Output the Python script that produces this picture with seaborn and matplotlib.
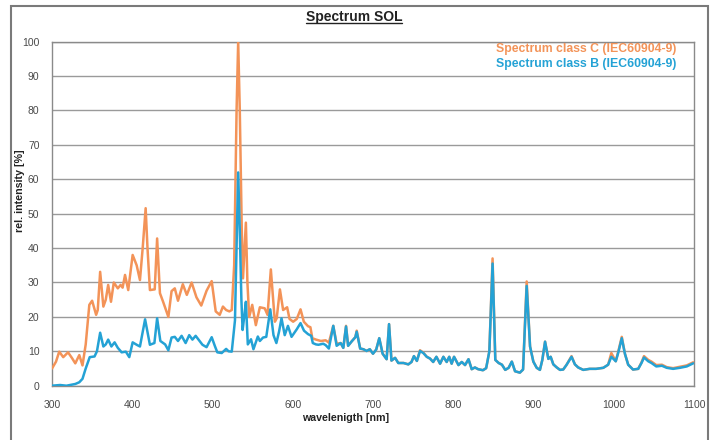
import numpy as np
import pandas as pd
import matplotlib
matplotlib.use("Agg")
import matplotlib.pyplot as plt
from matplotlib.lines import Line2D
from matplotlib.patches import Rectangle
import seaborn as sns

# ---------------- data ----------------
# Class C (orange) - head part 300..645 nm
wl_c_head = [300, 305, 309, 314, 320, 325, 329, 334, 338, 342, 346.5, 350, 355, 357, 360,
             364, 367, 370, 373.5, 377, 382, 385.5, 388, 391, 395, 400.5, 405.5, 409.6,
             413, 416.7, 419, 422, 428, 431, 434.5, 438.6, 442, 445, 449, 453, 457, 463,
             468, 474, 480, 486, 492.6, 499, 504, 509, 513, 517, 521, 524, 527, 530, 532,
             534, 536.5, 538, 540, 541.6, 543.5, 545.7, 549.5, 554, 559, 565, 568.6,
             572.7, 577.7, 580, 584, 588, 593, 596, 600.5, 605, 609.7, 613.8, 619, 622,
             624.4, 629, 635, 641, 645]
int_c_head = [5, 7, 9.9, 8.3, 9.7, 8, 6.5, 8.9, 5.9, 12, 23.5, 24.7, 20.6, 22, 33.1,
              23, 25, 29.3, 24.4, 30, 28.3, 29.3, 28.5, 32.2, 27.8, 38, 35, 30.7,
              40, 51.6, 40, 27.8, 28, 42.8, 26.9, 24.3, 22, 20, 27.5, 28.3, 24.7, 29.5,
              26.4, 30, 25.7, 23.3, 27.6, 30.4, 21.6, 20.6, 23, 22, 21.6, 22, 35, 80, 100,
              80, 45, 31.2, 40, 47.4, 30, 20, 23.5, 17.6, 22.8, 22.5, 20.6,
              33.8, 18.6, 19.6, 28, 22, 22.8, 19.4, 18.6, 19.4, 22.2, 18.6, 17.3, 17,
              13.8, 13.4, 13, 13.2, 12.5]

# Class B (blue) - head part 300..645 nm
wl_b_head = [300, 310, 318, 325, 329, 334, 338, 342, 347, 353, 356, 360, 364, 367, 370,
             374, 378, 382, 386.8, 392, 396.3, 400.5, 405.5, 409.6, 416, 422, 427.6, 431,
             435, 441, 445, 449, 453, 457, 461.5, 466.5, 471, 475, 479, 483, 487.5, 492.6,
             499, 503, 506, 511.5, 517, 520, 524, 528, 530, 532, 534, 536, 537.5, 539.5,
             541.6, 544, 548, 551, 556.5, 559, 563, 567, 572, 576, 579.6, 583, 586, 590,
             594, 598.5, 605, 609.7, 614, 619, 623, 625, 629, 632, 638, 641, 645]
int_b_head = [0, 0.2, 0, 0.3, 0.5, 1.0, 2.0, 5, 8.3, 8.5, 10, 15.4, 11.4, 12, 13.4,
              11.4, 12.6, 11, 9.7, 9.9, 8.3, 12.6, 11.9, 11.4, 19.3, 11.9, 12.4, 19.6,
              13, 12, 10.3, 14, 14.2, 13, 14.5, 12.4, 14.7, 13.4, 14.5, 13.3, 11.9, 11.2,
              14.1, 11.5, 9.7, 9.5, 10.7, 10, 9.9, 19, 40, 62, 45, 25, 16.2, 20,
              24.4, 12, 13.5, 10.6, 14.3, 13, 14, 14.2, 22.2, 14.7, 12.4, 15.8, 19.6, 14.7,
              17.4, 14.2, 16.4, 18.2, 16, 15, 14.5, 12.4, 12, 11.9, 12.2, 11.8, 10.8]

# Shared tail wavelengths 650..1100 nm (both classes nearly coincide here)
wl_tail = [650.5, 654.7, 659.7, 663, 666.4, 669, 673.5, 678, 679.7, 684, 688, 692, 696,
           700, 704, 707.8, 712, 717, 720, 723, 727.5, 731.5, 738, 744, 748, 751, 754.7,
           758.6, 762.7, 767, 771, 775, 779, 783.6, 787.7, 791.8, 795, 798, 801, 806.5,
           810.6, 814.7, 819, 823, 827, 831, 837, 841, 845, 849, 852.4, 856.6, 860.7,
           864.8, 869, 873, 877, 883, 887, 891.5, 895.7, 899.8, 904, 908, 911, 914.4,
           918.5, 921.4, 924.7, 929, 933, 937, 941, 947.4, 951.6, 955.7, 962, 970, 978,
           987, 993, 997, 1002.5, 1005.5, 1010, 1014, 1018, 1024, 1030.5, 1034.6, 1037.7,
           1043, 1047, 1053, 1060, 1066, 1074, 1082.5, 1091, 1099]
int_b_tail = [17.4, 11.6, 12.4, 11, 17.2, 11.6, 12.9, 14.1, 15.7, 10.8, 10.6, 10.1, 10.6,
              9.3, 10.5, 13.8, 9.3, 7.7, 17.9, 7.3, 8.1, 6.6, 6.6, 6.2, 6.9, 8.6, 7.2,
              10.1, 9.5, 8.4, 7.9, 6.9, 8.4, 6.4, 8.4, 6.9, 8.4, 6.4, 8.4, 6,
              6.9, 6, 7.7, 4.8, 5.3, 4.8, 4.5, 5.1, 10, 35.5, 7.5, 6.6, 6.1,
              4.6, 5.2, 7, 4.2, 3.8, 4.7, 29, 11.4, 7.0, 5.2, 4.6, 7.5, 12.8,
              7.8, 8.4, 6.2, 5.3, 4.6, 4.7, 6.0, 8.4, 6.2, 5.3, 4.6, 4.9, 4.9,
              5.2, 6.1, 8.4, 7.1, 9.5, 13.8, 9.2, 6.1, 4.7, 4.9, 6.6, 8.2,
              7.1, 6.6, 5.6, 5.8, 5.2, 4.9, 5.2, 5.6, 6.5]
int_c_tail = [17.4, 12.2, 12.4, 11, 17.4, 11.6, 12.9, 14.1, 16, 10.8, 10.6, 10.1, 10.6,
              9.3, 10.5, 13.8, 9.3, 7.7, 17.9, 7.3, 8.1, 6.6, 6.6, 6.2, 6.9, 8.6, 7.2,
              10.3, 9.6, 8.4, 7.9, 6.9, 8.4, 6.4, 8.4, 6.9, 8.4, 6.4, 8.4, 6,
              6.9, 6, 7.7, 4.8, 5.3, 4.8, 4.5, 5.1, 10, 37, 7.5, 6.6, 6.1,
              4.6, 5.2, 7, 4.2, 3.8, 4.7, 30.3, 11.4, 7.0, 5.2, 4.6, 7.5, 12.8,
              7.8, 8.4, 6.2, 5.3, 4.6, 4.7, 6.0, 8.6, 6.2, 5.3, 4.6, 4.9, 4.9,
              5.2, 6.1, 9.5, 7.1, 9.8, 14.2, 9.2, 6.1, 4.7, 4.9, 6.8, 8.6,
              7.5, 7.0, 6.0, 6.1, 5.4, 5.1, 5.5, 5.9, 6.8]

x_ticks = [300, 400, 500, 600, 700, 800, 900, 1000, 1100]
y_ticks = [0, 10, 20, 30, 40, 50, 60, 70, 80, 90, 100]

label_c = "Spectrum class C (IEC60904-9)"
label_b = "Spectrum class B (IEC60904-9)"
title_text = "Spectrum SOL"
xlabel_text = "wavelenigth [nm]"
ylabel_text = "rel. intensity [%]"

# ---------------- styling ----------------
sns.set_theme(style="white")
plt.rcParams['font.family'] = ['Liberation Sans', 'DejaVu Sans']

col_c = "#F39358"
col_b = "#24A2D5"
grid_col = "#9a9a9a"
text_col = "#4a4a4a"

W, H = 717, 440
fig = plt.figure(figsize=(W / 100, H / 100), dpi=100)
fig.patch.set_facecolor("white")

left, right, top, bottom = 52, 694, 41.7, 385.7
ax = fig.add_axes([left / W, (H - bottom) / H, (right - left) / W, (bottom - top) / H])

df_c = pd.DataFrame({"wl": wl_c_head + wl_tail, "val": int_c_head + int_c_tail})
df_b = pd.DataFrame({"wl": wl_b_head + wl_tail, "val": int_b_head + int_b_tail})

sns.lineplot(data=df_c, x="wl", y="val", ax=ax, color=col_c, lw=1.8,
             estimator=None, sort=True, zorder=3)
sns.lineplot(data=df_b, x="wl", y="val", ax=ax, color=col_b, lw=1.8,
             estimator=None, sort=True, zorder=4)

ax.set_xlim(300, 1100)
ax.set_ylim(0, 100)
ax.set_xticks(x_ticks)
ax.set_yticks(y_ticks)
ax.set_xlabel("")
ax.set_ylabel("")
ax.yaxis.grid(True, color=grid_col, lw=1.0)
ax.xaxis.grid(False)
ax.set_axisbelow(True)
for s in ax.spines.values():
    s.set_color("#8a8a8a")
    s.set_linewidth(1.0)
ax.tick_params(axis="both", which="major", labelsize=7.5, labelcolor=text_col,
               color="#8a8a8a", direction="out", length=4, width=1.0)
ax.tick_params(axis="y", pad=5)
ax.tick_params(axis="x", pad=6)

# legend as coloured text
fig.text(676 / W, 1 - 49 / H, label_c, color=col_c, fontsize=8.8, fontweight="bold",
         ha="right", va="center")
fig.text(676 / W, 1 - 63.5 / H, label_b, color=col_b, fontsize=8.8, fontweight="bold",
         ha="right", va="center")

# axis labels
fig.text(346 / W, 1 - 418 / H, xlabel_text, fontsize=7.7, fontweight="bold",
         color="#222222", ha="center", va="center")
fig.text(20 / W, 1 - 191 / H, ylabel_text, fontsize=7.7, fontweight="bold",
         color="#222222", ha="center", va="center", rotation=90)

# title with underline
t = fig.text(354 / W, 1 - 17 / H, title_text, fontsize=10, fontweight="bold",
             color="#222222", ha="center", va="center")
fig.canvas.draw()
bb = t.get_window_extent(renderer=fig.canvas.get_renderer())
uy = (bb.y0 + 0.5) / H
fig.add_artist(Line2D([bb.x0 / W, bb.x1 / W], [uy, uy], color="#222222", lw=1.0,
                      transform=fig.transFigure))

# outer frame
fig.add_artist(Rectangle((11 / W, -0.02), (708 - 11) / W, (H - 6) / H + 0.02,
                         transform=fig.transFigure, fill=False,
                         edgecolor="#7a7a7a", lw=1.5))

fig.savefig("out.png", dpi=100, facecolor="white")
